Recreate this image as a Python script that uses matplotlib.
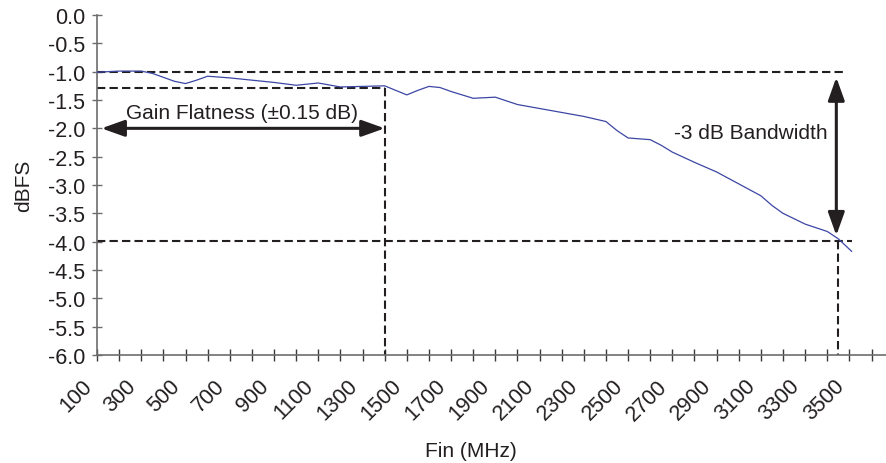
import matplotlib
matplotlib.use("Agg")
import matplotlib.pyplot as plt
import matplotlib.transforms as mtransforms

# valeurs
fin_mhz = [100, 200, 300, 350, 400, 450, 500, 550, 600, 700, 800, 900, 1000,
           1100, 1200, 1300, 1400, 1450, 1500, 1550, 1600, 1650, 1700, 1800,
           1900, 2000, 2100, 2200, 2300, 2400, 2450, 2500, 2600, 2650, 2700,
           2800, 2900, 3000, 3100, 3150, 3200, 3300, 3400, 3450, 3510]
dbfs = [-1.01, -0.99, -0.99, -1.03, -1.10, -1.17, -1.21, -1.15, -1.08, -1.11,
        -1.15, -1.19, -1.24, -1.20, -1.27, -1.26, -1.25, -1.33, -1.41, -1.33,
        -1.26, -1.28, -1.35, -1.47, -1.45, -1.58, -1.65, -1.72, -1.79, -1.88,
        -2.04, -2.17, -2.20, -2.30, -2.42, -2.60, -2.77, -2.98, -3.19, -3.36,
        -3.50, -3.69, -3.82, -3.95, -4.17]

xticks_minor = list(range(100, 3700, 100))
xticks_lab = list(range(100, 3600, 200))
yticks = [0.0, -0.5, -1.0, -1.5, -2.0, -2.5, -3.0, -3.5, -4.0, -4.5, -5.0, -5.5, -6.0]

flat_top = -1.0
flat_bot = -1.29
flat_edge = 1400
bw_level = -3.98
bw_edge = 3450

ink = '#231f20'
plt.rcParams['font.family'] = ['Liberation Sans', 'DejaVu Sans']

fig = plt.figure(figsize=(8.87, 4.64), dpi=100)
ax = fig.add_axes([97/887, 1-356/464, 790/887, 340/464])

ax.plot(fin_mhz, dbfs, color='#3c46a4', lw=0.9, zorder=3)

dash = dict(color=ink, lw=1.5, ls=(0, (4, 2)), zorder=2)
ax.plot([100, 3470], [flat_top, flat_top], **dash)
ax.plot([100, flat_edge], [flat_bot, flat_bot], **dash)
ax.plot([flat_edge, flat_edge], [flat_bot, -6.0], **dash)
ax.plot([100, 3510], [bw_level, bw_level], **dash)
ax.plot([bw_edge, bw_edge], [bw_level, -6.0], **dash)

arr = dict(arrowstyle='<|-|>,head_length=1.4,head_width=0.5', color=ink,
           lw=2.2, mutation_scale=10, shrinkA=0, shrinkB=0)
ax.annotate('', xy=(120, -2.0), xytext=(flat_edge, -2.0), arrowprops=arr)
ax.annotate('', xy=(3441, -1.10), xytext=(3441, -3.89), arrowprops=arr)

ax.text(757, -1.72, 'Gain Flatness (\u00b10.15 dB)', ha='center', va='center',
        fontsize=15, color=ink)
ax.text(3402, -2.08, '-3 dB Bandwidth', ha='right', va='center',
        fontsize=15, color=ink)

ax.set_xlim(100, 3670)
ax.set_ylim(-6.0, 0.0)
ax.spines['top'].set_visible(False)
ax.spines['right'].set_visible(False)
for s in ['left', 'bottom']:
    ax.spines[s].set_color('#6d6d6d')
    ax.spines[s].set_linewidth(1.2)

ax.set_yticks(yticks)
ax.set_yticklabels(['%.1f' % v for v in yticks])
ax.set_xticks(xticks_minor)
ax.set_xticklabels([str(v) if v in xticks_lab else '' for v in xticks_minor],
                   rotation=45, ha='right', va='top')
ax.tick_params(axis='y', direction='inout', length=6.5, width=1.0, color='#6d6d6d',
               pad=5.2, labelsize=15.5, labelcolor=ink)
ax.tick_params(axis='x', direction='inout', length=8, width=1.0, color='#3a3a3a',
               pad=10.5, labelsize=15.5, labelcolor=ink)
shift = mtransforms.ScaledTranslation(-1/100, 0, fig.dpi_scale_trans)
for lab in ax.get_xticklabels():
    lab.set_transform(lab.get_transform() + shift)

ax.set_ylabel('dBFS', fontsize=15, color=ink)
ax.yaxis.set_label_coords(-0.081, 0.5)
ax.set_xlabel('Fin (MHz)', fontsize=15, color=ink)
ax.xaxis.set_label_coords(0.473, -0.252)

fig.savefig('out.png', dpi=100)
